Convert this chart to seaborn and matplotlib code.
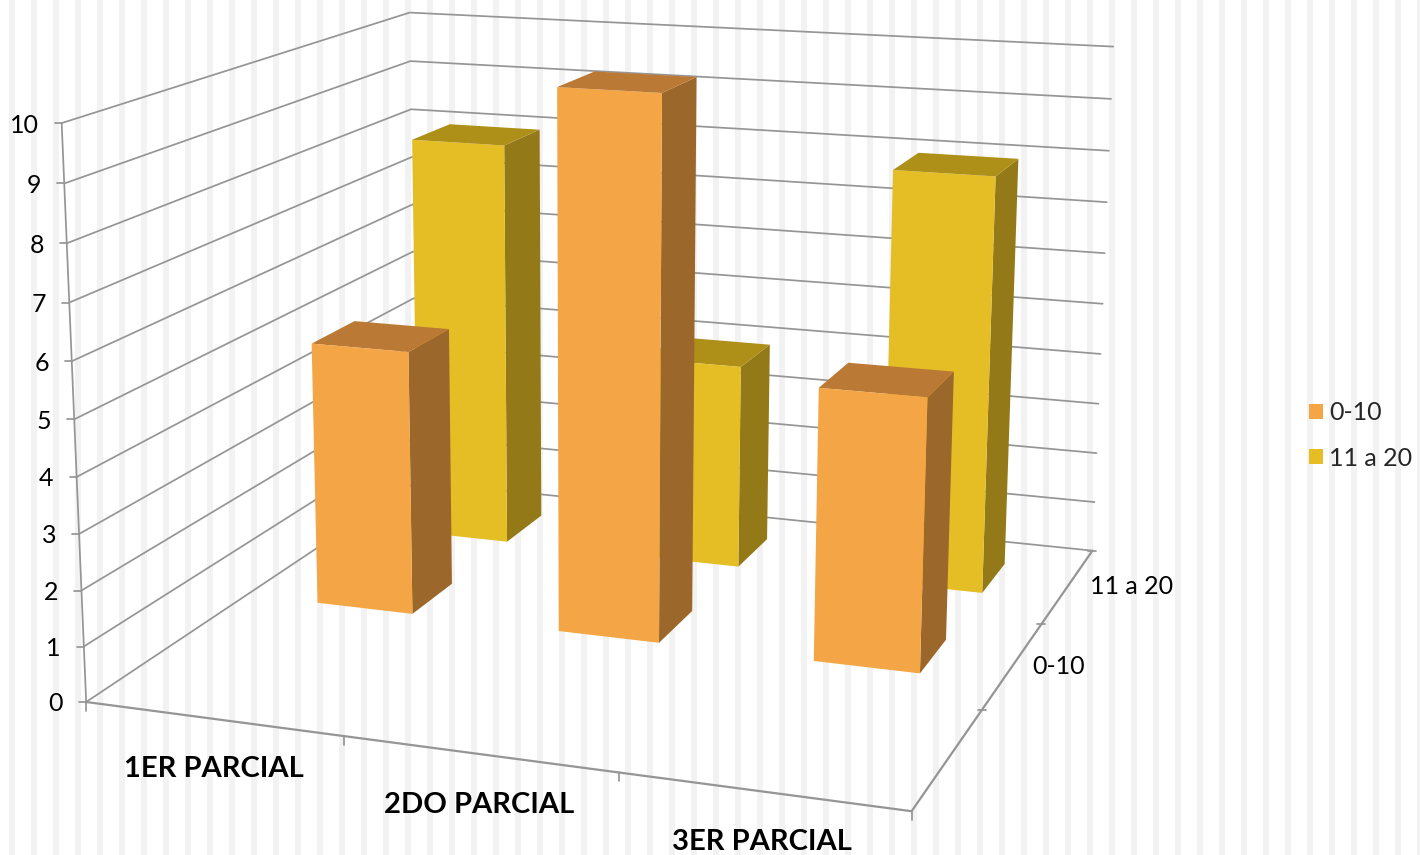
import numpy as np
import matplotlib
matplotlib.use("Agg")
import matplotlib.pyplot as plt
import seaborn as sns
from matplotlib.lines import Line2D
from matplotlib.patches import Patch

categories = ["1ER PARCIAL", "2DO PARCIAL", "3ER PARCIAL"]
series_names = ["0-10", "11 a 20"]
values_low = [5, 10, 5]
values_high = [8, 4, 8]
z_ticks = list(range(0, 11))

W, H = 1420, 855

# camera: floor/wall corners (category, depth, value) and where they sit in the picture
cal_world = [(0,0,0),(0,0,1),(0,0,2),(0,0,8),(0,0,9),(0,0,10),
             (0,3,10),(0,3,9),(0,3,8),(0,3,0),
             (3,3,10),(3,3,9),(3,3,5),(3,3,2),(3,3,0),
             (3,0,0),(1,0,0),(2,0,0),(3,1,0),(3,2,0)]
cal_px = [(87,701),(84,646),(81,590),(68,244),(63,184),(61,124),
          (410.7,11.7),(410,61),(411.7,108),(416,484),
          (1113,47),(1111,99),(1102,304),(1096,453),(1092,550),
          (913,812),(344,736),(617,772),(983,710),(1042,624)]


def fit_camera(world, px):
    rows = []
    for (x, y, z), (u, v) in zip(world, px):
        u, v = u / 1000, v / 1000
        rows.append([x, y, z, 1, 0, 0, 0, 0, -u*x, -u*y, -u*z, -u])
        rows.append([0, 0, 0, 0, x, y, z, 1, -v*x, -v*y, -v*z, -v])
    p = np.linalg.svd(np.array(rows))[2][-1].reshape(3, 4)
    p = np.diag([1000, 1000, 1]) @ p
    return p / p[2, 3]


P = fit_camera(cal_world, cal_px)


def to_px(x, y, z):
    q = P @ np.array([x, y, z, 1.0])
    return q[0] / q[2], q[1] / q[2]


sns.set_theme(style="white")
plt.rcParams["font.family"] = ["Lato", "DejaVu Sans"]

fig = plt.figure(figsize=(W / 100, H / 100), dpi=100, facecolor="white")

# faint vertical stripes of the slide behind the chart
bg = fig.add_axes([0, 0, 1, 1], zorder=-1)
bg.set_xlim(0, W)
bg.set_ylim(H, 0)
bg.axis("off")
for s in range(9, W, 22):
    bg.axvspan(s, s + 6, color="#f2f2f2", lw=0)

ax = fig.add_axes([0, 0, 1, 1], projection="3d", computed_zorder=False)
ax.set_axis_off()
ax.set_facecolor("none")
ax.apply_aspect = lambda position=None: None


def get_proj():
    flip = np.array([[1, 0, 0], [0, -1, H], [0, 0, 1.0]])
    h = ax.transData.inverted().get_affine().get_matrix() @ flip @ P
    return np.array([h[0], h[1], [0, 0, 0, -1], h[2]])


ax.get_proj = get_proj

grid_col = "#959595"
for z in z_ticks:
    ax.plot([0, 0, 3], [0, 3, 3], [z, z, z], color=grid_col, lw=1.25, zorder=1, clip_on=False)
ax.plot([0, 0], [0, 0], [0, 10], color=grid_col, lw=1.25, zorder=1, clip_on=False)
ax.plot([0, 3, 3], [0, 0, 3], [0, 0, 0], color=grid_col, lw=1.6, zorder=1, clip_on=False)

clear = (0, 0, 0, 0)
low_faces = [clear, "#BA7A36", "#F4A545", clear, clear, "#9B672A"]
high_faces = [clear, "#AE9019", "#E5BE26", clear, clear, "#937917"]

# depth slot 0 is empty, the two series sit in slots 1 and 2
bar_w = 0.4
for i in range(3):
    ax.bar3d(i + 0.302, 2.3, 0, bar_w, 0.4, values_high[i], color=high_faces, shade=False, lw=0, zorder=3, clip_on=False)
for i in range(3):
    ax.bar3d(i + 0.302, 1.3, 0, bar_w, 0.4, values_low[i], color=low_faces, shade=False, lw=0, zorder=4, clip_on=False)


def tick(px0, py0, dx0, dy0, dx1, dy1):
    fig.add_artist(Line2D([px0 + dx0, px0 + dx1], [H - py0 - dy0, H - py0 - dy1], color=grid_col, lw=1.25, transform=None))


for z in z_ticks:
    u, v = to_px(0, 0, z)
    tick(u, v, -7, 0, 0, 0)
    fig.text((u - 23) / W, 1 - (v + 2) / H, str(z), ha="right", va="center", fontsize=18, color="black")
for c in range(4):
    u, v = to_px(c, 0, 0)
    tick(u, v, 0, 0, 0, 9)
for d in range(1, 4):
    u, v = to_px(3, d, 0)
    tick(u, v, -4, 0, 4, 0)

for lab, (u, v) in zip(categories, [(214, 769), (479, 805), (762, 842)]):
    fig.text(u / W, 1 - v / H, lab, ha="center", va="center", fontsize=21, fontweight="bold", color="black")
for lab, (u, v) in zip(series_names, [(1059, 666), (1132, 587)]):
    fig.text(u / W, 1 - v / H, lab, ha="center", va="center", fontsize=18, color="black")

handles = [Patch(color=low_faces[2], lw=0), Patch(color=high_faces[2], lw=0)]
fig.legend(handles, series_names, loc="center left", bbox_to_anchor=(1309 / W, 1 - 435.5 / H), frameon=False,
           fontsize=18, handlelength=0.56, handleheight=0.56, handletextpad=0.24, labelspacing=0.88, borderpad=0, borderaxespad=0)

fig.savefig("out.png", dpi=100)
